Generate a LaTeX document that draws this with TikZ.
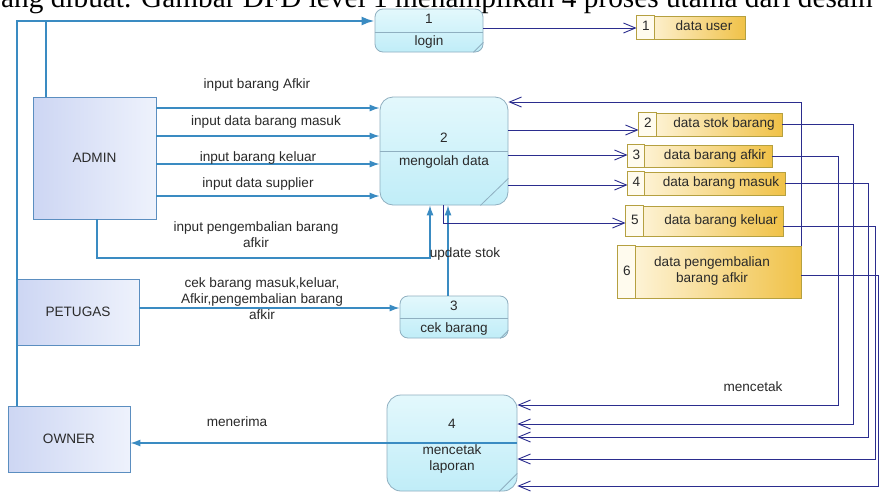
\documentclass[tikz,border=0pt]{standalone}
\usepackage{fontspec}
\setmainfont{Liberation Sans}
\newfontfamily\topserif{Liberation Serif}
\usetikzlibrary{arrows.meta,calc}
\definecolor{entb}{HTML}{5B8EC0}
\definecolor{entl}{HTML}{CDD6F3}
\definecolor{entr}{HTML}{EEF2FC}
\definecolor{procb}{HTML}{8FAFC0}
\definecolor{procl}{HTML}{E3F8FC}
\definecolor{procr}{HTML}{C0EDF8}
\definecolor{stb}{HTML}{B5A040}
\definecolor{stl}{HTML}{FFF8E4}
\definecolor{str}{HTML}{F0C248}
\definecolor{cellc}{HTML}{FFFBEE}
\definecolor{entln}{HTML}{3A8BC2}
\definecolor{stln}{HTML}{2B2D8E}
\definecolor{txt}{HTML}{2A2A2A}
\begin{document}
\begin{tikzpicture}[x=1pt,y=-1pt,
  every node/.style={font=\fontsize{13.6}{16}\selectfont, text=txt},
  ent/.style={draw=entb, line width=0.9pt, left color=entl, right color=entr, inner sep=0pt},
  proc/.style={draw=procb, line width=0.8pt, top color=procl, bottom color=procr, inner sep=0pt},
  procln/.style={draw=procb, line width=0.8pt},
  store/.style={draw=stb, line width=0.8pt, left color=stl, right color=str, inner sep=0pt},
  cell/.style={fill=cellc, draw=stb, line width=0.8pt},
  lbl/.style={inner sep=0pt, text height=9.8pt, text depth=3pt},
  lbltwo/.style={inner sep=0pt, align=center},
  entline/.style={draw=entln, line width=1.2pt, -{Latex[length=10pt,width=7pt]}},
  bigline/.style={draw=entln, line width=2.3pt},
  stline/.style={draw=stln, line width=0.9pt, -{Straight Barb[length=12pt,width=10pt]}},
]
\useasboundingbox (0,0) rectangle (879,493);
\clip (0,0) rectangle (879,493);
\fill[white] (0,0) rectangle (879,493);

% clipped caption line at the top
\node[anchor=base west, inner sep=0pt, font=\topserif\fontsize{29.3}{32}\selectfont, text=black] (toptext) at (1,7) {ang dibuat. Gambar DFD level 1 menampilkan 4 proses utama dari desain};

% external entities
\node[ent, minimum width=123pt, minimum height=122pt] (ad) at (94.5,158) {ADMIN};
\node[ent, minimum width=122pt, minimum height=66pt] (pt) at (78,312) {PETUGAS};
\node[ent, minimum width=122pt, minimum height=66pt] (ow) at (69,439) {OWNER};

% processes
\node[proc, rounded corners=8pt, minimum width=108pt, minimum height=43pt] (p1) at (429,30.5) {};
\draw[procln] (p1.west |- 0,32) -- (p1.east |- 0,32);
\draw[procln] ([xshift=-10pt]p1.south east) -- ([yshift=10pt]p1.south east);
\node[lbl] (p1n) at (429,20) {1};
\node[lbl] (p1t) at (429,42) {login};

\node[proc, rounded corners=13pt, minimum width=128pt, minimum height=108pt] (p2) at (444,151) {};
\draw[procln] (p2.west) -- (p2.east);
\draw[procln] ([xshift=-28pt]p2.south east) -- ([yshift=27pt]p2.south east);
\node[lbl] (p2n) at (444,139) {2};
\node[lbl] (p2t) at (444,162) {mengolah data};

\node[proc, rounded corners=8pt, minimum width=108pt, minimum height=42pt] (p3) at (454,317) {};
\draw[procln] (p3.west |- 0,318) -- (p3.east |- 0,318);
\draw[procln] ([xshift=-8pt]p3.south east) -- ([yshift=8pt]p3.south east);
\node[lbl] (p3n) at (454,307) {3};
\node[lbl] (p3t) at (454,329) {cek barang};

\node[proc, rounded corners=14pt, minimum width=130pt, minimum height=96pt] (p4) at (452,443) {};
\draw[procln] ([xshift=-18pt]p4.south east) -- ([yshift=18pt]p4.south east);
\node[lbl] (p4n) at (452,425) {4};
\node[lbltwo] (p4t) at (452,458.5) {mencetak\\laporan};

% data stores
\node[store, minimum width=108pt, minimum height=23pt] (s1) at (691,27.5) {};
\draw[cell] (s1.north west) rectangle ([xshift=18pt]s1.south west);
\node[lbl] (s1n) at (646,27.5) {1};
\node[lbl] (s1t) at (704,27.5) {data user};

\node[store, minimum width=143pt, minimum height=23pt] (s2) at (710.5,124.5) {};
\draw[cell] (s2.north west) rectangle ([xshift=18pt]s2.south west);
\node[lbl] (s2n) at (648,124.5) {2};
\node[lbl] (s2t) at (724,124.5) {data stok barang};

\node[store, minimum width=144pt, minimum height=22pt] (s3) at (700,156) {};
\draw[cell] (s3.north west) rectangle ([xshift=17pt]s3.south west);
\node[lbl] (s3n) at (636.5,156) {3};
\node[lbl] (s3t) at (715,156) {data barang afkir};

\node[store, minimum width=157pt, minimum height=23pt] (s4) at (706.5,183.5) {};
\draw[cell] (s4.north west) rectangle ([xshift=17pt]s4.south west);
\node[lbl] (s4n) at (636.5,183.5) {4};
\node[lbl] (s4t) at (721,183.5) {data barang masuk};

\node[store, minimum width=157pt, minimum height=30pt] (s5) at (704.5,221) {};
\draw[cell] (s5.north west) rectangle ([xshift=18pt]s5.south west);
\node[lbl] (s5n) at (635,221) {5};
\node[lbl] (s5t) at (721,221) {data barang keluar};

\node[store, minimum width=183pt, minimum height=52pt] (s6) at (709.5,272) {};
\draw[cell] (s6.north west) rectangle ([xshift=18pt]s6.south west);
\node[lbl] (s6n) at (627,272) {6};
\node[lbltwo] (s6t) at (712,271) {data pengembalian\\barang afkir};

% entity flows
\draw[bigline] (ow.north -| 17,0) -- (17,21) -- (46,21);
\draw[bigline, -{Latex[length=13pt,width=9pt]}] (ad.north -| 46,0) -- (46,21) -- (p1.west |- 0,21);

\draw[entline] (ad.east |- 0,108) -- (p2.west |- 0,108);
\draw[entline] (ad.east |- 0,136) -- (p2.west |- 0,136);
\draw[entline] (ad.east |- 0,164) -- (p2.west |- 0,164);
\draw[entline] (ad.east |- 0,196) -- (p2.west |- 0,196);
\draw[entline] (ad.south -| 97,0) -- (97,258) -- (430,258) -- (p2.south -| 430,0);
\draw[entline] (p3.north -| 448,0) -- (p2.south -| 448,0);
\draw[entline] (pt.east |- 0,308) -- (p3.west |- 0,308);
\draw[entline] (p4.west) -- (ow.east |- p4.west);
\draw[draw=entln, line width=1.2pt] (p4.west) -- (p4.east);

\node[lbl] (l1) at (257,85) {input barang Afkir};
\node[lbl] (l2) at (266,122) {input data barang masuk};
\node[lbl] (l3) at (258,158) {input barang keluar};
\node[lbl] (l4) at (258,184) {input data supplier};
\node[lbltwo] (l5) at (256,235) {input pengembalian barang\\afkir};
\node[lbl] (l6) at (465,254) {update stok};
\node[lbltwo] (l7) at (262,298.5) {cek barang masuk,keluar,\\Afkir,pengembalian barang\\afkir};
\node[lbl] (l8) at (237,423) {menerima};
\node[lbl] (l9) at (753,388) {mencetak};

% store flows
\draw[stline] (p1.east |- 0,28) -- (s1.west |- 0,28);
\draw[stline] (p2.east |- 0,130) -- (s2.west |- 0,130);
\draw[stline] (p2.east |- 0,155) -- (s3.west |- 0,155);
\draw[stline] (p2.east |- 0,185) -- (s4.west |- 0,185);
\draw[stline] (p2.south -| 443,0) -- (443,223) -- (s5.west |- 0,223);
\draw[stline] (s6.north -| 801,0) -- (801,102) -- (p2.east |- 0,102);

\draw[stline] (s3.east) -| (838,405) -- (p4.east |- 0,405);
\draw[stline] (s2.east) -| (853,424) -- (p4.east |- 0,424);
\draw[stline] (s4.east) -| (868,437) -- (p4.east |- 0,437);
\draw[stline] ([yshift=-5pt]s5.east) -| (875,459) -- (p4.east |- 0,459);
\draw[stline] ([yshift=-3pt]s6.east) -| (878,486) -- (p4.east |- 0,486);
\end{tikzpicture}
\end{document}
